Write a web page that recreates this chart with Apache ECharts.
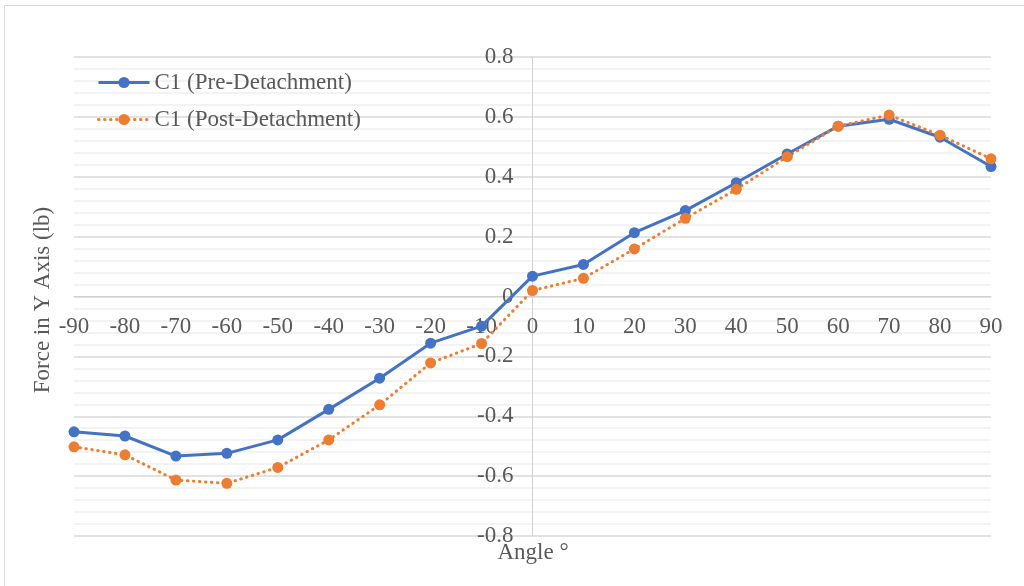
<!DOCTYPE html>
<html>
<head>
<meta charset="utf-8">
<script src="https://cdn.jsdelivr.net/npm/echarts@6/dist/echarts.min.js"></script>
<style>
  html, body { margin: 0; padding: 0; background: #ffffff; }
  #chart { width: 1024px; height: 586px; }
</style>
</head>
<body>
<div id="chart"></div>
<script>
// Angle of the fixture, in degrees
const angles = [-90, -80, -70, -60, -50, -40, -30, -20, -10, 0, 10, 20, 30, 40, 50, 60, 70, 80, 90];

// Force in Y axis (lb) before and after detachment
const preDetachment = [-0.452, -0.466, -0.533, -0.524, -0.479, -0.377, -0.273, -0.156, -0.099, 0.068,
  0.107, 0.213, 0.287, 0.380, 0.476, 0.569, 0.592, 0.532, 0.434];
const postDetachment = [-0.502, -0.529, -0.613, -0.624, -0.571, -0.479, -0.362, -0.222, -0.157, 0.020,
  0.061, 0.159, 0.261, 0.358, 0.467, 0.569, 0.606, 0.539, 0.460];

const seriesNames = ['C1 (Pre-Detachment)', 'C1 (Post-Detachment)'];
const xTitle = 'Angle °';
const yTitle = 'Force in Y Axis (lb)';

const FONT = '"Liberation Serif", "Times New Roman", serif';
const TEXT = '#595959';

// Plot box (px) and axis ranges; the axes cross at the origin in the middle.
const GRID = { left: 74, right: 33, top: 57, bottom: 50 };
const W = 1024, H = 586;
const X_MIN = -90, X_MAX = 90, Y_MIN = -0.8, Y_MAX = 0.8;
const plotW = W - GRID.left - GRID.right;
const plotH = H - GRID.top - GRID.bottom;
// shift each axis from its grid edge onto the zero line of the other axis
const xAxisOffset = -plotH * (0 - Y_MIN) / (Y_MAX - Y_MIN);
const yAxisOffset = -plotW * (0 - X_MIN) / (X_MAX - X_MIN);

const toPairs = (ys) => angles.map((a, i) => [a, ys[i]]);

const chart = echarts.init(document.getElementById('chart'), null, { renderer: 'canvas' });

chart.setOption({
  backgroundColor: '#ffffff',
  animation: false,
  textStyle: { fontFamily: FONT },
  grid: Object.assign({ containLabel: false, outerBoundsMode: 'none' }, GRID),
  legend: {
    orient: 'vertical',
    left: 92,
    top: 66,
    itemWidth: 51,
    itemHeight: 14,
    itemGap: 14,
    lineStyle: { width: 3 },
    textStyle: { fontFamily: FONT, fontSize: 23, color: TEXT },
    data: seriesNames
  },
  xAxis: {
    type: 'value',
    min: X_MIN,
    max: X_MAX,
    interval: 10,
    offset: xAxisOffset,
    axisLine: { onZero: false, lineStyle: { color: '#d0d0d0', width: 1 } },
    axisTick: { show: false },
    splitLine: { show: false },
    axisLabel: { fontFamily: FONT, fontSize: 23, color: TEXT, margin: 19 }
  },
  yAxis: {
    type: 'value',
    min: Y_MIN,
    max: Y_MAX,
    interval: 0.2,
    offset: yAxisOffset,
    axisLine: { show: true, onZero: false, lineStyle: { color: '#d0d0d0', width: 1 } },
    axisTick: { show: false },
    minorTick: { show: false, splitNumber: 5 },
    splitLine: { show: true, lineStyle: { color: '#d9d9d9', width: 1.5 } },
    minorSplitLine: { show: true, lineStyle: { color: '#efefef', width: 1.5 } },
    axisLabel: {
      fontFamily: FONT, fontSize: 23, color: TEXT, margin: 19,
      formatter: (v) => String(Math.round(v * 10) / 10)
    }
  },
  graphic: [
    {
      type: 'rect',
      shape: { x: 4.5, y: 5.5, width: 1030, height: 600 },
      style: { fill: 'none', stroke: '#d9d9d9', lineWidth: 1 },
      silent: true
    },
    {
      type: 'text',
      x: 43,
      y: 300,
      rotation: Math.PI / 2,
      style: {
        text: yTitle, fontFamily: FONT, fontSize: 23, fill: TEXT,
        align: 'center', verticalAlign: 'middle'
      }
    },
    {
      type: 'text',
      x: 533,
      y: 553,
      style: {
        text: xTitle, fontFamily: FONT, fontSize: 23, fill: TEXT,
        align: 'center', verticalAlign: 'middle'
      }
    }
  ],
  series: [
    {
      name: seriesNames[0],
      type: 'line',
      data: toPairs(preDetachment),
      symbol: 'circle',
      symbolSize: 11,
      color: '#4472C4',
      lineStyle: { width: 3, color: '#4472C4' },
      itemStyle: { color: '#4472C4' }
    },
    {
      name: seriesNames[1],
      type: 'line',
      data: toPairs(postDetachment),
      symbol: 'circle',
      symbolSize: 11,
      color: '#ED7D31',
      lineStyle: { width: 3, color: '#ED7D31', type: [0.5, 5.5], cap: 'round' },
      itemStyle: { color: '#ED7D31' }
    }
  ]
});
</script>
</body>
</html>
